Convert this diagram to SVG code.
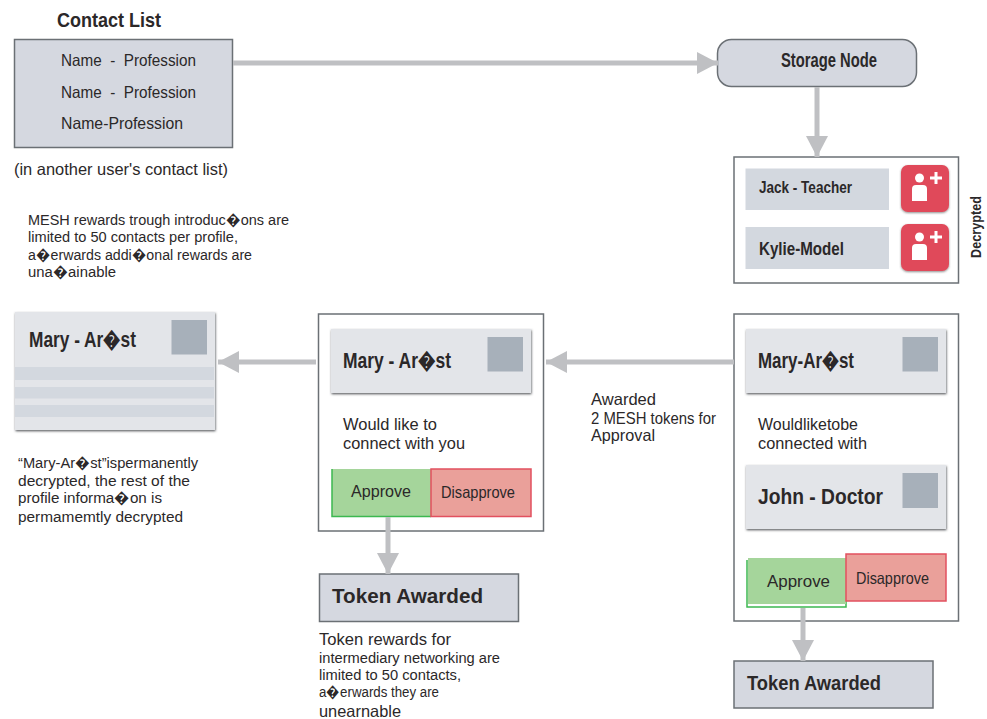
<svg xmlns="http://www.w3.org/2000/svg" width="987" height="719" viewBox="0 0 987 719">
<style>
text{font-family:"Liberation Sans",Arial,sans-serif;fill:#2b2829;white-space:pre}
.t{font-size:16.5px}
.p{font-size:15.5px}
.b{font-weight:bold}
.b18{font-weight:bold;font-size:20px}
.b20{font-weight:bold;font-size:22px}
.b21{font-weight:bold;font-size:21px}
.box{fill:#d5d8e0;stroke:#6b7075;stroke-width:1.5}
.frame{fill:#fff;stroke:#6b7075;stroke-width:1.5}
.card{fill:#e3e5e9;filter:url(#sh)}
.sq{fill:#a7b0ba}
.bar{fill:#d3d8df}
.ok{fill:#a5d59b}
.okl{fill:none;stroke:#3cb850;stroke-width:1.5}
.no{fill:#eaa09a;stroke:#e2505f;stroke-width:1.5}
.icon{fill:#e04a5a;filter:url(#sh2)}
.w{fill:#fff}
.c{stroke:#bfc0c3;stroke-width:5;fill:none;marker-end:url(#a)}
</style>
<defs>
<marker id="a" markerUnits="userSpaceOnUse" markerWidth="21" markerHeight="22" viewBox="0 0 21 22" refX="21" refY="11" orient="auto"><path d="M0 0L21 11L0 22Z" fill="#bfc0c3"/></marker>
<filter id="sh" x="-5%" y="-5%" width="110%" height="115%"><feDropShadow dx="0.5" dy="1.2" stdDeviation="0.8" flood-color="#45494e" flood-opacity="0.9"/></filter>
<filter id="sh2" x="-10%" y="-10%" width="120%" height="125%"><feDropShadow dx="0" dy="1" stdDeviation="1" flood-color="#444" flood-opacity="0.6"/></filter>
</defs>

<g id="contact-list">
<text x="57" y="27" class="b18" textLength="104" lengthAdjust="spacingAndGlyphs">Contact List</text>
<rect x="14.5" y="39.5" width="218" height="108" class="box"/>
<text x="61" y="65.500" class="t" textLength="135" lengthAdjust="spacingAndGlyphs">Name  -  Profession</text>
<text x="61" y="97.500" class="t" textLength="135" lengthAdjust="spacingAndGlyphs">Name  -  Profession</text>
<text x="61" y="129" class="t" textLength="122" lengthAdjust="spacingAndGlyphs">Name-Profession</text>
<text x="14" y="175" class="t" textLength="214" lengthAdjust="spacingAndGlyphs">(in another user's contact list)</text>
</g>

<g id="rewards-note">
<text x="28" y="225" class="p" textLength="261" lengthAdjust="spacingAndGlyphs">MESH rewards trough introduc�ons are</text>
<text x="28" y="242" class="p" textLength="210" lengthAdjust="spacingAndGlyphs">limited to 50 contacts per profile,</text>
<text x="28" y="260" class="p" textLength="224" lengthAdjust="spacingAndGlyphs">a�erwards addi�onal rewards are</text>
<text x="28" y="277" class="p" textLength="88" lengthAdjust="spacingAndGlyphs">una�ainable</text>
</g>

<g id="storage-node">
<rect x="717.5" y="39.5" width="199" height="47" rx="14" class="box"/>
<text x="781" y="67" class="b18" textLength="96" lengthAdjust="spacingAndGlyphs">Storage Node</text>
</g>

<g id="decrypted">
<rect x="734" y="157" width="224.5" height="126" class="frame"/>
<rect x="745.5" y="168.5" width="143.500" height="41.500" class="bar"/>
<text x="759" y="192.500" class="b" font-size="17" textLength="93" lengthAdjust="spacingAndGlyphs">Jack - Teacher</text>
<rect x="745.5" y="227" width="143.500" height="42" class="bar"/>
<text x="759" y="254.500" class="b" font-size="17.500" textLength="85" lengthAdjust="spacingAndGlyphs">Kylie-Model</text>
<rect x="901" y="165" width="48" height="47" rx="7" class="icon"/>
<circle cx="919.500" cy="178" r="4.500" class="w"/>
<path d="M912 201V189Q912 185 916 185H923Q927 185 927 189V201Z" class="w"/>
<path d="M934.500 172h3v4.500h4.500v3h-4.500v4.500h-3v-4.500h-4.500v-3h4.500Z" class="w"/>
<rect x="901" y="224" width="48" height="47" rx="7" class="icon"/>
<circle cx="919.500" cy="237" r="4.500" class="w"/>
<path d="M912 260V248Q912 244 916 244H923Q927 244 927 248V260Z" class="w"/>
<path d="M934.500 231h3v4.500h4.500v3h-4.500v4.500h-3v-4.500h-4.500v-3h4.500Z" class="w"/>
<text transform="translate(980.500 258) rotate(-90)" x="0" y="0" class="b" font-size="15.500" textLength="62" lengthAdjust="spacingAndGlyphs">Decrypted</text>
</g>

<g id="profile-card">
<rect x="15" y="312" width="200" height="118" class="card"/>
<rect x="15" y="367" width="199" height="13" class="bar"/>
<rect x="15" y="387" width="199" height="11.500" class="bar"/>
<rect x="15" y="405" width="199" height="12" class="bar"/>
<rect x="171.500" y="320" width="35.500" height="34.500" class="sq"/>
<text x="29" y="347" class="b20" textLength="107" lengthAdjust="spacingAndGlyphs">Mary - Ar�st</text>
</g>

<g id="permanent-note">
<text x="18" y="468" class="p" textLength="180" lengthAdjust="spacingAndGlyphs">“Mary-Ar�st”ispermanently</text>
<text x="18" y="486" class="p" textLength="172" lengthAdjust="spacingAndGlyphs">decrypted, the rest of the</text>
<text x="18" y="503" class="p" textLength="144" lengthAdjust="spacingAndGlyphs">profile informa�on is</text>
<text x="18" y="522" class="p" textLength="165" lengthAdjust="spacingAndGlyphs">permamemtly decrypted</text>
</g>

<g id="request-middle">
<rect x="318.500" y="314" width="225" height="217" class="frame"/>
<rect x="331" y="329" width="200" height="64" class="card"/>
<rect x="487.500" y="337" width="35.500" height="34.500" class="sq"/>
<text x="343" y="368" class="b20" textLength="108" lengthAdjust="spacingAndGlyphs">Mary - Ar�st</text>
<text x="343" y="430" class="t" textLength="94" lengthAdjust="spacingAndGlyphs">Would like to</text>
<text x="343" y="449" class="t" textLength="122" lengthAdjust="spacingAndGlyphs">connect with you</text>
<rect x="332" y="469" width="99" height="47" class="ok"/>
<path d="M332 469V516.500H431" class="okl"/>
<text x="351" y="497" class="t" textLength="60" lengthAdjust="spacingAndGlyphs">Approve</text>
<rect x="431" y="469" width="100" height="47.500" class="no"/>
<text x="441" y="498" class="t" textLength="74" lengthAdjust="spacingAndGlyphs">Disapprove</text>
</g>

<g id="token-middle">
<rect x="319.500" y="574" width="199" height="47.500" class="box"/>
<text x="332" y="603" class="b21" textLength="151" lengthAdjust="spacingAndGlyphs">Token Awarded</text>
</g>

<g id="token-note">
<text x="319" y="645" class="t" textLength="132" lengthAdjust="spacingAndGlyphs">Token rewards for</text>
<text x="319" y="662.500" class="p" textLength="181" lengthAdjust="spacingAndGlyphs">intermediary networking are</text>
<text x="319" y="680" class="p" textLength="142" lengthAdjust="spacingAndGlyphs">limited to 50 contacts,</text>
<text x="319" y="697" class="p" textLength="120" lengthAdjust="spacingAndGlyphs">a�erwards they are</text>
<text x="319" y="717" class="t" textLength="82" lengthAdjust="spacingAndGlyphs">unearnable</text>
</g>

<g id="awarded-label">
<text x="591" y="405" class="t" textLength="65" lengthAdjust="spacingAndGlyphs">Awarded</text>
<text x="591" y="424" class="t" textLength="125" lengthAdjust="spacingAndGlyphs">2 MESH tokens for</text>
<text x="591" y="441" class="t" textLength="64" lengthAdjust="spacingAndGlyphs">Approval</text>
</g>

<g id="request-right">
<rect x="734" y="314" width="224.500" height="307" class="frame"/>
<rect x="746" y="329" width="200" height="64" class="card"/>
<rect x="902.500" y="337" width="35.500" height="34.500" class="sq"/>
<text x="758" y="368" class="b20" textLength="96" lengthAdjust="spacingAndGlyphs">Mary-Ar�st</text>
<text x="758" y="430" class="t" textLength="100" lengthAdjust="spacingAndGlyphs">Wouldliketobe</text>
<text x="758" y="449" class="t" textLength="109" lengthAdjust="spacingAndGlyphs">connected with</text>
<rect x="746" y="465" width="200" height="64" class="card"/>
<rect x="902.500" y="473" width="35.500" height="35" class="sq"/>
<text x="758" y="504" class="b20" textLength="125" lengthAdjust="spacingAndGlyphs">John - Doctor</text>
<path d="M747 560V607H846V600" class="okl"/>
<rect x="748" y="558" width="98" height="46" class="ok"/>
<text x="767" y="587" class="t" textLength="63" lengthAdjust="spacingAndGlyphs">Approve</text>
<rect x="846" y="554" width="100" height="47" class="no"/>
<text x="856" y="583.500" class="t" textLength="73" lengthAdjust="spacingAndGlyphs">Disapprove</text>
</g>

<g id="token-right">
<rect x="734" y="661" width="199" height="47" class="box"/>
<text x="747" y="690" class="b21" textLength="134" lengthAdjust="spacingAndGlyphs">Token Awarded</text>
</g>

<g id="connectors">
<path class="c" d="M233 63H718"/>
<path class="c" d="M817 87V157"/>
<path class="c" d="M734 362H546"/>
<path class="c" d="M316 362H218"/>
<path class="c" d="M388 517V574"/>
<path class="c" d="M803 608V661"/>
</g>
</svg>
